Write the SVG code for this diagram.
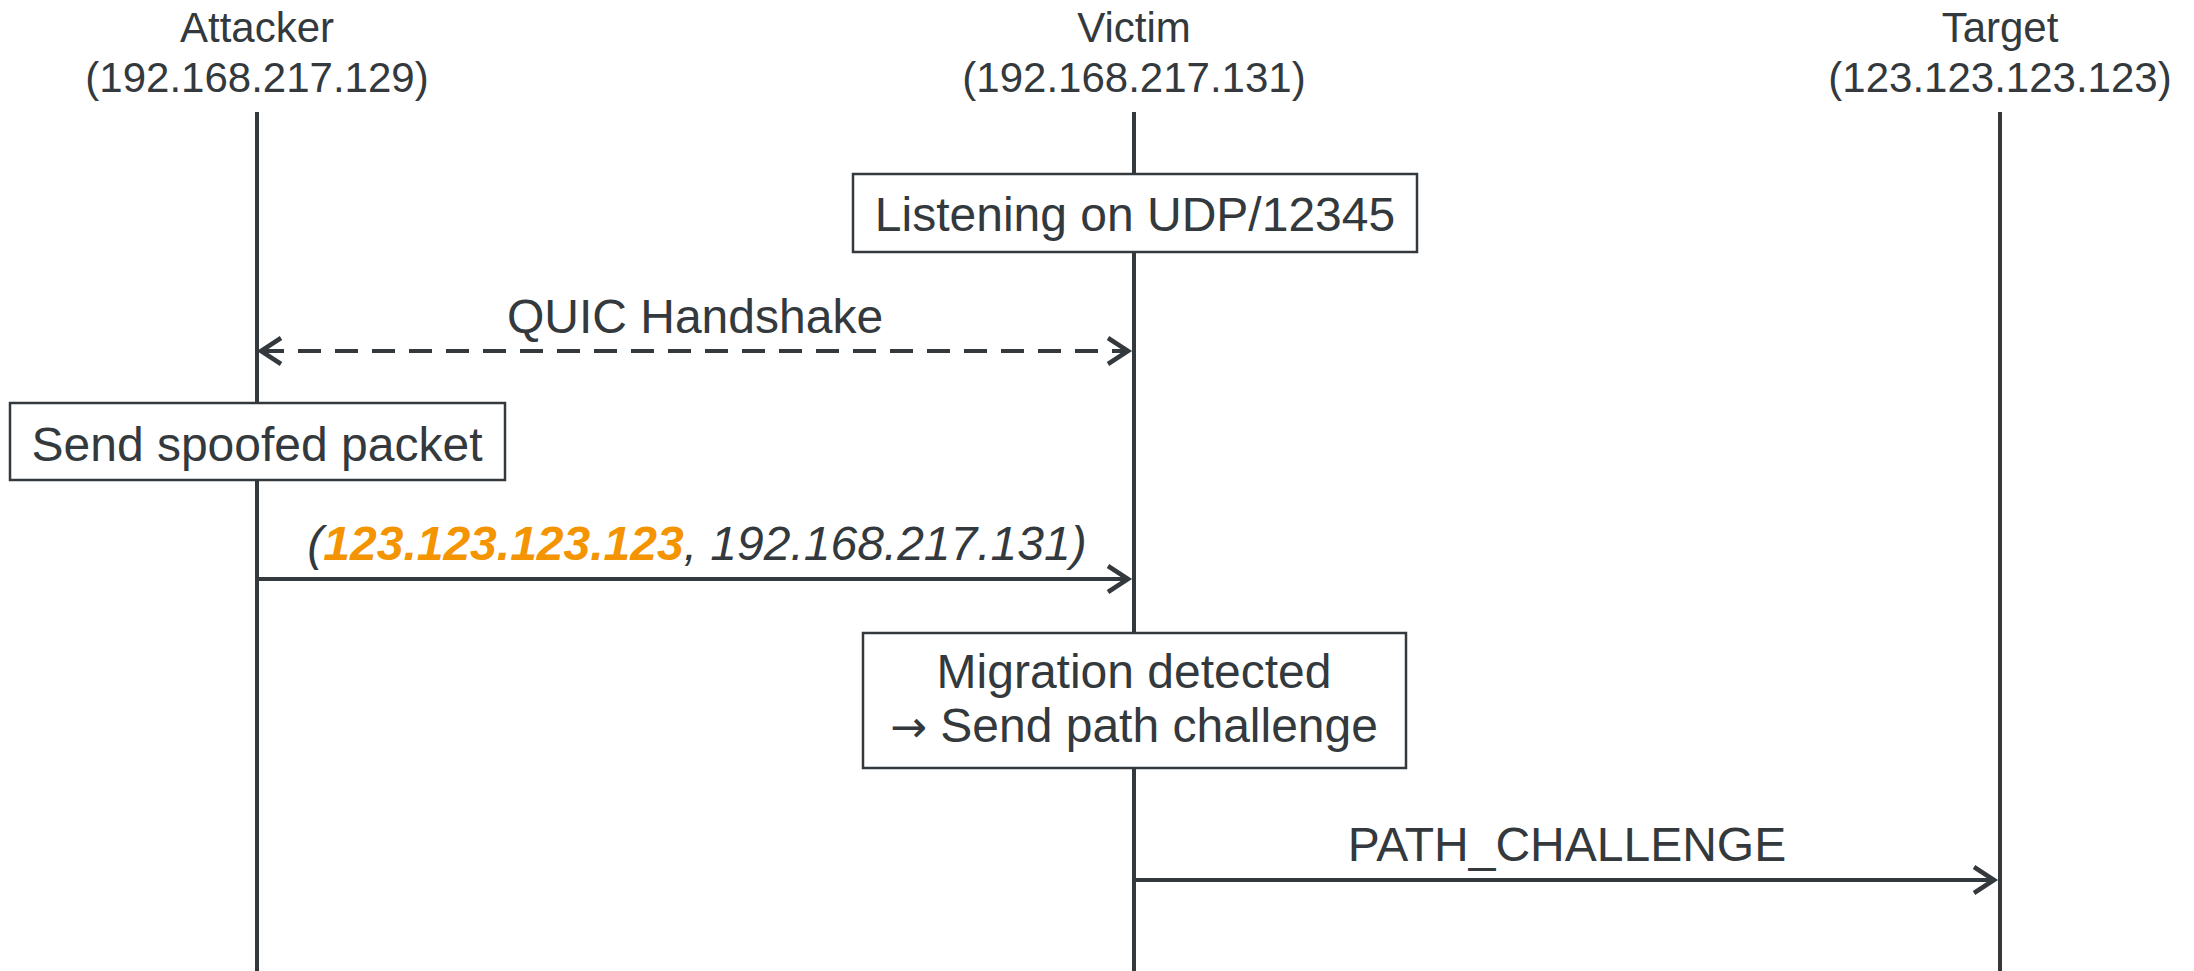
<svg xmlns="http://www.w3.org/2000/svg" width="2194" height="971" viewBox="0 0 2194 971">
  <style>
    text { font-family: "Liberation Sans", Arial, sans-serif; fill: #33393c; text-anchor: middle; }
    .hdr { font-size: 42px; }
    .lbl { font-size: 48px; }
    .life { stroke: #33393c; stroke-width: 4; fill: none; }
    .box { fill: #ffffff; stroke: #33393c; stroke-width: 2.5; }
    .msg { stroke: #33393c; stroke-width: 4; fill: none; }
    .dash { stroke-dasharray: 23 14; }
    .hl { fill: #f39400; font-weight: bold; }
    .arw { font-family: "DejaVu Sans", sans-serif; font-size: 44px; }
  </style>
  <defs>
    <marker id="arrow" markerUnits="userSpaceOnUse" markerWidth="30" markerHeight="36" refX="22" refY="16" orient="auto-start-reverse">
      <path d="M2,3 L22,16 L2,29" fill="none" stroke="#33393c" stroke-width="4.5" stroke-linejoin="miter"/>
    </marker>
  </defs>

  <g id="lifelines">
    <line class="life" x1="257" y1="112" x2="257" y2="971"/>
    <line class="life" x1="1134" y1="112" x2="1134" y2="971"/>
    <line class="life" x1="2000" y1="112" x2="2000" y2="971"/>
  </g>

  <g id="attacker">
    <text class="hdr" x="257" y="42">Attacker</text>
    <text class="hdr" x="257" y="92">(192.168.217.129)</text>
  </g>
  <g id="victim">
    <text class="hdr" x="1134" y="42">Victim</text>
    <text class="hdr" x="1134" y="92">(192.168.217.131)</text>
  </g>
  <g id="target">
    <text class="hdr" x="2000" y="42">Target</text>
    <text class="hdr" x="2000" y="92">(123.123.123.123)</text>
  </g>

  <g id="listening">
    <rect class="box" x="853" y="174" width="564" height="78"/>
    <text class="lbl" x="1135" y="231">Listening on UDP/12345</text>
  </g>

  <g id="send-spoofed">
    <rect class="box" x="10" y="403" width="495" height="77"/>
    <text class="lbl" x="257" y="461">Send spoofed packet</text>
  </g>

  <g id="migration">
    <rect class="box" x="863" y="633" width="543" height="135"/>
    <text class="lbl" x="1134" y="688">Migration detected</text>
    <text class="lbl" x="1134" y="742"><tspan class="arw">→</tspan> Send path challenge</text>
  </g>

  <g id="connectors">
    <line class="msg dash" x1="261" y1="351" x2="1128" y2="351" marker-start="url(#arrow)" marker-end="url(#arrow)"/>
    <text class="lbl" x="695" y="333">QUIC Handshake</text>

    <line class="msg" x1="257" y1="579" x2="1128" y2="579" marker-end="url(#arrow)"/>
    <text class="lbl" x="697" y="560" font-style="italic">(<tspan class="hl">123.123.123.123</tspan>, 192.168.217.131)</text>

    <line class="msg" x1="1134" y1="880" x2="1994" y2="880" marker-end="url(#arrow)"/>
    <text class="lbl" x="1567" y="861">PATH_CHALLENGE</text>
  </g>
</svg>
